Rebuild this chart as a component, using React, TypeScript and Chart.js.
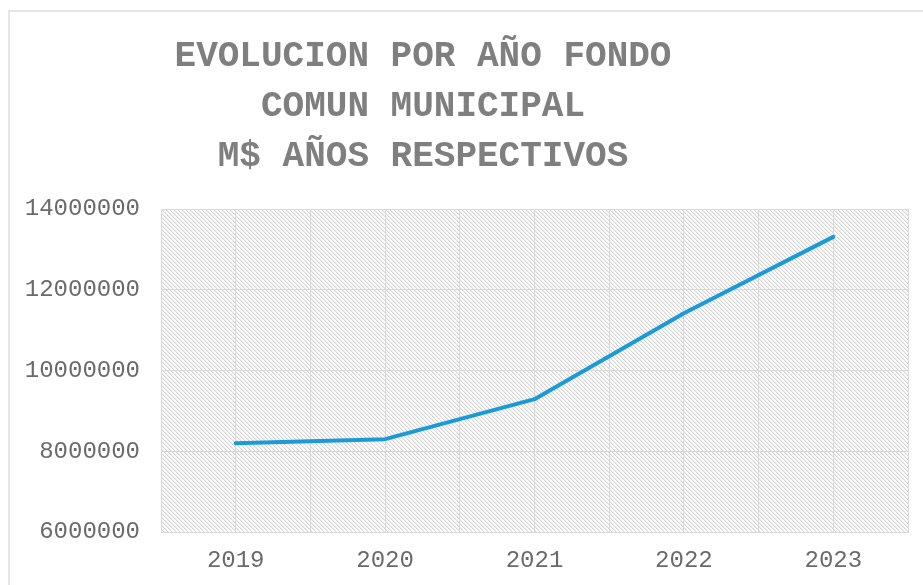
import React, { useEffect, useRef } from "react";
import { Chart, registerables } from "chart.js";

Chart.register(...registerables);

const years = ["2019", "2020", "2021", "2022", "2023"];
const fondoComun = [8200000, 8300000, 9290000, 11420000, 13310000];
const titleLines = ["EVOLUCION POR AÑO FONDO", "COMUN MUNICIPAL", "M$ AÑOS RESPECTIVOS"];
const yMin = 6000000;
const yMax = 14000000;
const yStep = 2000000;

function makePattern(ctx: CanvasRenderingContext2D) {
  const c = document.createElement("canvas");
  c.width = 4;
  c.height = 4;
  const p = c.getContext("2d")!;
  p.fillStyle = "#ffffff";
  p.fillRect(0, 0, 4, 4);
  for (let y = 0; y < 4; y++) {
    for (let x = 0; x < 4; x++) {
      const d = (((x - y) % 4) + 4) % 4;
      if (d === 0) {
        p.fillStyle = "#d6d6d6";
        p.fillRect(x, y, 1, 1);
      } else if (d === 1) {
        p.fillStyle = "#eeeeee";
        p.fillRect(x, y, 1, 1);
      }
    }
  }
  return ctx.createPattern(c, "repeat")!;
}

export default function App() {
  const ref = useRef<HTMLCanvasElement | null>(null);

  useEffect(() => {
    const canvas = ref.current!;
    const bgPlugin = {
      id: "hatchBg",
      beforeDraw(chart: any) {
        const { ctx, chartArea } = chart;
        ctx.save();
        ctx.fillStyle = makePattern(ctx);
        ctx.fillRect(chartArea.left, chartArea.top, chartArea.right - chartArea.left, chartArea.bottom - chartArea.top);
        ctx.restore();
      },
    };
    const titlePlugin = {
      id: "multiTitle",
      afterDraw(chart: any) {
        const { ctx } = chart;
        ctx.save();
        ctx.fillStyle = "#7f7f7f";
        ctx.font = "bold 36px 'Courier New', 'Liberation Mono', monospace";
        ctx.textAlign = "center";
        ctx.textBaseline = "alphabetic";
        const baselines = [66, 116, 166];
        titleLines.forEach((t, i) => ctx.fillText(t, 423, baselines[i]));
        ctx.restore();
      },
    };

    const chart = new Chart(canvas, {
      type: "line",
      data: {
        datasets: [
          {
            label: "Fondo Común Municipal",
            data: fondoComun.map((v, i) => ({ x: i, y: v })),
            borderColor: "#1a9bd7",
            borderWidth: 4,
            pointRadius: 0,
            tension: 0,
            borderCapStyle: "round",
            borderJoinStyle: "round",
            fill: false,
          },
        ],
      },
      options: {
        animation: false,
        responsive: false,
        maintainAspectRatio: false,
        layout: { padding: { left: 0, top: 209, right: 15, bottom: 0 } },
        plugins: {
          legend: { display: false },
          title: { display: false },
          tooltip: { enabled: false },
        },
        scales: {
          x: {
            type: "linear",
            min: -0.5,
            max: years.length - 0.5,
            grid: { color: "#d9d9d9", lineWidth: 1, drawTicks: false },
            border: { color: "#d9d9d9", width: 1 },
            afterFit(scale: any) {
              scale.height = 53;
            },
            ticks: {
              stepSize: 0.5,
              autoSkip: false,
              maxRotation: 0,
              padding: 14,
              color: "#6a6a6a",
              font: { family: "'Courier New', 'Liberation Mono', monospace", size: 24 },
              callback: (v: any) => (Number.isInteger(v) ? years[v] : ""),
            },
          },
          y: {
            min: yMin,
            max: yMax,
            grid: { color: "#d9d9d9", lineWidth: 1, drawTicks: false },
            border: { color: "#d9d9d9", width: 1 },
            afterFit(scale: any) {
              scale.width = 161;
            },
            ticks: {
              stepSize: yStep,
              padding: 21,
              color: "#6a6a6a",
              font: { family: "'Courier New', 'Liberation Mono', monospace", size: 24 },
              callback: (v: any) => String(v),
            },
          },
        },
      },
      plugins: [bgPlugin, titlePlugin],
    });
    return () => chart.destroy();
  }, []);

  return (
    <div>
      <div
        style={{
          position: "fixed",
          left: 8,
          top: 10,
          width: 1000,
          height: 1000,
          border: "2px solid #e6e6e6",
          boxSizing: "border-box",
        }}
      />
      <canvas
        ref={ref}
        width={923}
        height={585}
        style={{ position: "fixed", left: 0, top: 0, width: 923, height: 585 }}
      />
    </div>
  );
}
